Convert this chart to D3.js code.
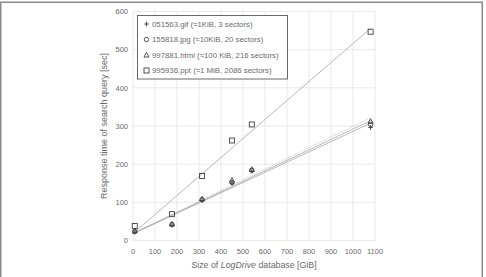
<!DOCTYPE html>
<html>
<head>
<meta charset="utf-8">
<script src="https://cdn.jsdelivr.net/npm/d3@7"></script>
<style>
  body { margin: 0; background: #fff; }
  svg { display: block; font-family: "Liberation Sans", "Open Sans", sans-serif; }
</style>
</head>
<body>
<svg id="chart" width="486" height="277"></svg>
<script>
// database size (GiB) at which each search was timed
const sizes = [8, 177, 314, 450, 540, 1080];

// response times (sec), one array per searched file
const gifTimes = [22, 40, 105, 150, 182, 296];
const jpgTimes = [24, 42, 107, 152, 184, 304];
const htmlTimes = [25, 43, 109, 158, 186, 312];
const pptTimes = [38, 69, 169, 262, 304, 547];

const seriesNames = [
    "051563.gif (\u22481KiB, 3 sectors)",
    "155818.jpg (\u224810KiB, 20 sectors)",
    "997881.html (\u2248100 KiB, 216 sectors)",
    "995936.ppt (\u22481 MiB, 2086 sectors)"
];
const xTicks = d3.range(0, 1101, 100);
const yTicks = d3.range(0, 601, 100);

const series = [
    { name: seriesNames[0], values: gifTimes, symbol: "plus", dash: null },
    { name: seriesNames[1], values: jpgTimes, symbol: "circle", dash: null },
    { name: seriesNames[2], values: htmlTimes, symbol: "triangle", dash: "1,1.5" },
    { name: seriesNames[3], values: pptTimes, symbol: "square", dash: null }
];

const svg = d3.select("#chart");
const plot = { left: 133, right: 375, top: 11.5, bottom: 240.5 };

const x = d3.scaleLinear().domain([0, 1100]).range([plot.left, plot.right]);
const y = d3.scaleLinear().domain([0, 600]).range([plot.bottom, plot.top]);

// outer frame
svg.append("rect")
    .attr("x", 0.75).attr("y", 2.25)
    .attr("width", 481.5).attr("height", 290)
    .attr("fill", "none").attr("stroke", "#8a8a8a").attr("stroke-width", 1.5);

// gridlines
svg.append("g").selectAll("line").data(xTicks).join("line")
    .attr("x1", d => x(d)).attr("x2", d => x(d))
    .attr("y1", plot.top).attr("y2", plot.bottom)
    .attr("stroke", "#e3e3e3").attr("stroke-width", 0.8);
svg.append("g").selectAll("line").data(yTicks).join("line")
    .attr("x1", plot.left).attr("x2", plot.right)
    .attr("y1", d => y(d)).attr("y2", d => y(d))
    .attr("stroke", "#e3e3e3").attr("stroke-width", 0.8);

// tick labels
svg.append("g").selectAll("text").data(xTicks).join("text")
    .attr("x", d => x(d)).attr("y", 254)
    .attr("text-anchor", "middle")
    .attr("font-size", 7.5).attr("fill", "#6a6a6a")
    .text(d => d);
svg.append("g").selectAll("text").data(yTicks).join("text")
    .attr("x", 128).attr("y", d => y(d) + 2.7)
    .attr("text-anchor", "end")
    .attr("font-size", 7.5).attr("fill", "#6a6a6a")
    .text(d => d);

// axis titles
const xt = svg.append("text")
    .attr("x", x(550)).attr("y", 268)
    .attr("text-anchor", "middle")
    .attr("font-size", 8.8).attr("fill", "#6a6a6a");
xt.append("tspan").text("Size of ");
xt.append("tspan").attr("font-style", "italic").text("LogDrive");
xt.append("tspan").text(" database [GiB]");

svg.append("text")
    .attr("transform", `translate(107,${(plot.top + plot.bottom) / 2}) rotate(-90)`)
    .attr("text-anchor", "middle")
    .attr("font-size", 9).attr("fill", "#6a6a6a")
    .text("Response time of search query [sec]");

// linear trendlines over the data range
const xExt = d3.extent(sizes);
series.forEach(s => {
    const mx = d3.mean(sizes), my = d3.mean(s.values);
    const slope = d3.sum(sizes, (v, i) => (v - mx) * (s.values[i] - my)) /
        d3.sum(sizes, v => (v - mx) * (v - mx));
    const b = my - slope * mx;
    svg.append("line")
        .attr("x1", x(0)).attr("y1", y(b))
        .attr("x2", x(xExt[1])).attr("y2", y(b + slope * xExt[1]))
        .attr("stroke", "#a6a6a6").attr("stroke-width", 0.8)
        .attr("stroke-dasharray", s.dash);
});

function drawSymbol(g, type, cx, cy) {
    const st = { fill: "none", stroke: "#404040", "stroke-width": 0.9 };
    let el;
    if (type === "plus") {
        el = g.append("path").attr("d", `M${cx - 2.3},${cy}H${cx + 2.3}M${cx},${cy - 2.5}V${cy + 2.5}`);
    } else if (type === "circle") {
        el = g.append("circle").attr("cx", cx).attr("cy", cy).attr("r", 2.2);
    } else if (type === "triangle") {
        el = g.append("path").attr("d", `M${cx},${cy - 2.7}L${cx + 2.5},${cy + 2}L${cx - 2.5},${cy + 2}Z`);
    } else {
        el = g.append("rect").attr("x", cx - 2.5).attr("y", cy - 2.5).attr("width", 5).attr("height", 5);
    }
    Object.entries(st).forEach(([k, v]) => el.attr(k, v));
}

// markers
series.forEach(s => {
    const g = svg.append("g");
    s.values.forEach((v, i) => drawSymbol(g, s.symbol, x(sizes[i]), y(v)));
});

// legend
const lg = svg.append("g");
lg.append("rect")
    .attr("x", 137.5).attr("y", 15.5).attr("width", 150).attr("height", 63.5)
    .attr("fill", "#fff").attr("stroke", "#595959").attr("stroke-width", 0.9);
series.forEach((s, i) => {
    const ly = 24 + i * 15.5;
    drawSymbol(lg, s.symbol, 146.5, ly);
    lg.append("text")
        .attr("x", 152).attr("y", ly + 2.6)
        .attr("font-size", 7.8).attr("fill", "#6a6a6a")
        .text(s.name);
});
</script>
</body>
</html>
